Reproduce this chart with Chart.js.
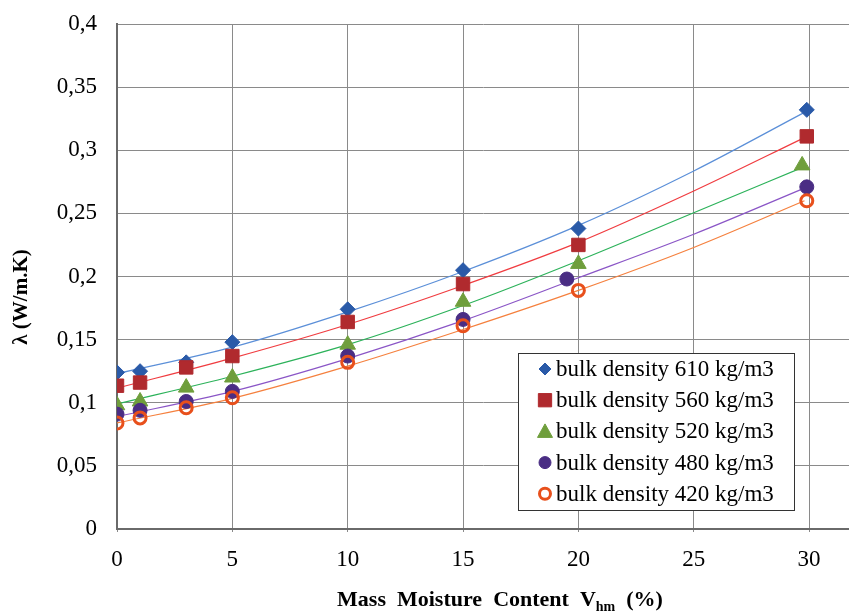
<!DOCTYPE html>
<html>
<head>
<meta charset="utf-8">
<script src="https://cdn.jsdelivr.net/npm/chart.js@4.4.1/dist/chart.umd.min.js"></script>
<style>
html,body{margin:0;padding:0;background:#fff;}
#wrap{width:849px;height:612px;}
</style>
</head>
<body>
<div id="wrap"><canvas id="c" width="849" height="612"></canvas></div>
<script>
// ---- data ----
const seriesLabels = ['bulk density 610 kg/m3','bulk density 560 kg/m3','bulk density 520 kg/m3','bulk density 480 kg/m3','bulk density 420 kg/m3'];

const x610 = [0, 1, 3, 5, 10, 15, 20, 29.9];
const y610 = [0.124, 0.125, 0.132, 0.148, 0.174, 0.205, 0.238, 0.332];
const x560 = [0, 1, 3, 5, 10, 15, 20, 29.9];
const y560 = [0.1135, 0.116, 0.128, 0.137, 0.164, 0.194, 0.225, 0.311];
const x520 = [0, 1, 3, 5, 10, 15, 20, 29.7];
const y520 = [0.098, 0.101, 0.112, 0.120, 0.146, 0.180, 0.210, 0.288];
const x480 = [0, 1, 3, 5, 10, 15, 19.5, 29.9];
const y480 = [0.091, 0.094, 0.101, 0.109, 0.137, 0.166, 0.198, 0.271];
const x420 = [0, 1, 3, 5, 10, 15, 20, 29.9];
const y420 = [0.084, 0.088, 0.096, 0.104, 0.132, 0.161, 0.189, 0.260];

// trend lines
const trendX = [0, 5, 10, 15, 20, 25, 29.8];
const trend610 = [0.123, 0.144, 0.172, 0.204, 0.2405, 0.2836, 0.330];
const trend560 = [0.1116, 0.1354, 0.162, 0.1929, 0.227, 0.2677, 0.310];
const trend520 = [0.099, 0.121, 0.146, 0.177, 0.2125, 0.2505, 0.287];
const trend480 = [0.089, 0.109, 0.135, 0.165, 0.199, 0.2335, 0.270];
const trend420 = [0.084, 0.1035, 0.129, 0.158, 0.189, 0.223, 0.260];

const xTickValues = [0, 5, 10, 15, 20, 25, 30];
const yTickValues = [0, 0.05, 0.1, 0.15, 0.2, 0.25, 0.3, 0.35, 0.4];

// ---- build ----
function pts(xs, ys){ return xs.map((x,i)=>({x:x, y:ys[i]})); }

const pointStyles = [
  {style:'rectRot', r:7.5, bg:'#2a5aa8', bc:'#2a5aa8', bw:1},
  {style:'rect', r:9.5, bg:'#b02a2e', bc:'#b02a2e', bw:1},
  {style:'triangle', r:9, bg:'#6f9e3c', bc:'#6f9e3c', bw:1},
  {style:'circle', r:7, bg:'#4a2d84', bc:'#4a2d84', bw:1},
  {style:'circle', r:6, bg:'rgba(255,255,255,0)', bc:'#e8501c', bw:3}
];
const lineColors = ['#5b8fd8','#f03c40','#2cb25a','#8a55c6','#f5803e'];
const pxs = [x610,x560,x520,x480,x420];
const pys = [y610,y560,y520,y480,y420];
const trends = [trend610,trend560,trend520,trend480,trend420];

const datasets = [];
for (let i=0;i<5;i++){
  datasets.push({
    label: 'trend '+i,
    data: pts(trendX, trends[i]),
    showLine: true,
    borderColor: lineColors[i],
    borderWidth: 1.2,
    pointRadius: 0,
    cubicInterpolationMode: 'monotone',
    fill: false,
    order: 20
  });
}
for (let i=0;i<5;i++){
  const s = pointStyles[i];
  datasets.push({
    label: seriesLabels[i],
    data: pts(pxs[i], pys[i]),
    showLine: false,
    pointStyle: s.style,
    pointRadius: s.r,
    pointBackgroundColor: s.bg,
    pointBorderColor: s.bc,
    pointBorderWidth: s.bw,
    order: 10 - i
  });
}

const serif = "'Liberation Serif','Times New Roman',serif";

function drawMarker(ctx, style, x, y, r){
  if (style === 'circle'){ ctx.arc(x, y, r, 0, Math.PI*2); }
  else if (style === 'rect'){ const s = r*0.95; ctx.rect(x-s, y-s, 2*s, 2*s); }
  else if (style === 'rectRot'){ ctx.moveTo(x, y-r); ctx.lineTo(x+r, y); ctx.lineTo(x, y+r); ctx.lineTo(x-r, y); ctx.closePath(); }
  else if (style === 'triangle'){ ctx.moveTo(x, y-r); ctx.lineTo(x+r, y+r*0.8); ctx.lineTo(x-r, y+r*0.8); ctx.closePath(); }
}

const customDraw = {
  id: 'customDraw',
  afterDraw(chart){
    const ctx = chart.ctx;
    ctx.save();
    // Legend box
    const lx = 518, ly = 353, lw = 276, lh = 157;
    ctx.fillStyle = '#fff';
    ctx.fillRect(lx, ly, lw, lh);
    ctx.strokeStyle = '#333';
    ctx.lineWidth = 1;
    ctx.strokeRect(lx+0.5, ly+0.5, lw, lh);
    ctx.font = "23px " + serif;
    ctx.textBaseline = 'middle';
    ctx.textAlign = 'left';
    for (let i=0;i<5;i++){
      const cy = 369 + i*31.2;
      const s = pointStyles[i];
      const legendR = [6, 7, 7.5, 6, 5.5][i];
      ctx.fillStyle = s.bg; ctx.strokeStyle = s.bc; ctx.lineWidth = s.bw;
      ctx.beginPath();
      drawMarker(ctx, s.style, 545, cy, legendR);
      if (i < 4) ctx.fill();
      ctx.stroke();
      ctx.fillStyle = '#000';
      ctx.fillText(seriesLabels[i], 556, cy+1);
    }
    // X title with subscript
    ctx.fillStyle = '#000';
    ctx.textBaseline = 'alphabetic';
    const big = "bold 22px " + serif, small = "bold 14px " + serif;
    const p1 = 'Mass  Moisture  Content  V', p2 = 'hm', p3 = '  (%)';
    ctx.font = big; const w1 = ctx.measureText(p1).width, w3 = ctx.measureText(p3).width;
    ctx.font = small; const w2 = ctx.measureText(p2).width;
    let sx = 500 - (w1+w2+w3)/2;
    const by = 606;
    ctx.font = big; ctx.fillText(p1, sx, by); sx += w1;
    ctx.font = small; ctx.fillText(p2, sx, by+5); sx += w2;
    ctx.font = big; ctx.fillText(p3, sx, by);
    // Y title
    ctx.translate(22, 297);
    ctx.rotate(-Math.PI/2);
    ctx.font = "bold 21px " + serif;
    ctx.textAlign = 'center';
    ctx.textBaseline = 'middle';
    ctx.fillText('λ (W/m.K)', 0, 0);
    ctx.restore();
  }
};

function fmt(v){ return parseFloat(v.toFixed(3)).toString().replace('.', ','); }

new Chart(document.getElementById('c'), {
  type: 'scatter',
  data: { datasets },
  options: {
    responsive: false,
    animation: false,
    events: [],
    layout: { autoPadding: false, padding: { top: 24, right: 0, left: 0, bottom: 0 } },
    plugins: { legend: { display: false }, tooltip: { enabled: false }, title: { display: false } },
    scales: {
      x: {
        type: 'linear', min: 0, max: 31.73,
        afterBuildTicks(scale){ scale.ticks = xTickValues.map(v=>({value:v})); },
        afterFit(scale){ scale.height = 83; scale.paddingLeft = 0; scale.paddingRight = 0; },
        ticks: { color: '#000', font: { family: serif, size: 23 }, padding: 14, callback: v => fmt(v), maxRotation: 0 },
        grid: { color: '#8a8a8a', lineWidth: 1, drawTicks: true, tickLength: 3 },
        border: { color: '#6a6a6a', width: 2 }
      },
      y: {
        type: 'linear', min: 0, max: 0.4,
        afterBuildTicks(scale){ scale.ticks = yTickValues.map(v=>({value:v})); },
        afterFit(scale){ scale.width = 117; scale.paddingTop = 0; scale.paddingBottom = 0; },
        ticks: { color: '#000', font: { family: serif, size: 23 }, padding: 20, callback: v => fmt(v) },
        grid: { color: '#8a8a8a', lineWidth: 1, drawTicks: false },
        border: { color: '#6a6a6a', width: 2 }
      }
    }
  },
  plugins: [customDraw]
});
</script>
</body>
</html>
